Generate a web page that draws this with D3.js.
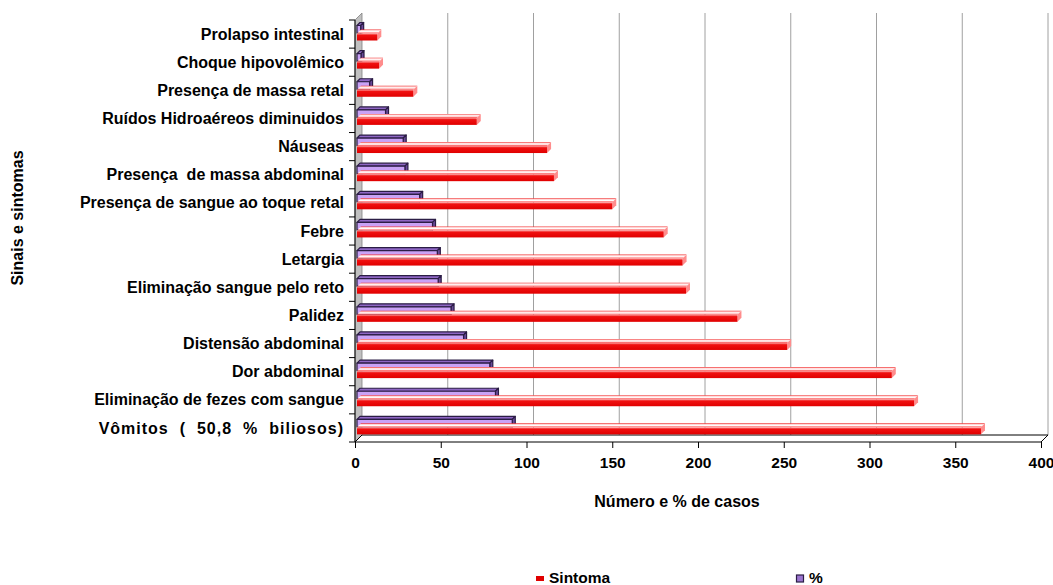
<!DOCTYPE html>
<html>
<head>
<meta charset="utf-8">
<script src="https://cdn.jsdelivr.net/npm/d3@7"></script>
<style>
  html, body { margin: 0; padding: 0; background: #fff; }
  svg { display: block; font-family: "Liberation Sans", Arial, sans-serif; }
  text { white-space: pre; }
</style>
</head>
<body>
<svg id="chart" width="1053" height="585"></svg>
<script>
// Signs and symptoms, listed top to bottom
const categories = [
  "Prolapso intestinal",
  "Choque hipovolêmico",
  "Presença de massa retal",
  "Ruídos Hidroaéreos diminuidos",
  "Náuseas",
  "Presença  de massa abdominal",
  "Presença de sangue ao toque retal",
  "Febre",
  "Letargia",
  "Eliminação sangue pelo reto",
  "Palidez",
  "Distensão abdominal",
  "Dor abdominal",
  "Eliminação de fezes com sangue",
  "Vômitos ( 50,8 % biliosos)"
];
// Number of cases per symptom
const sintoma = [13, 14, 34, 71, 112, 116, 150, 180, 191, 193, 223, 252, 313, 326, 365];
// Percentage of cases per symptom
const percent = [3.3, 3.5, 8.5, 17.8, 28.1, 29.1, 37.7, 45.2, 48.0, 48.5, 56.0, 63.3, 78.6, 81.9, 91.7];
// Value axis ticks
const xTicks = [0, 50, 100, 150, 200, 250, 300, 350, 400];
const seriesNames = ["Sintoma", "%"];

const svg = d3.select("#chart");
const defs = svg.append("defs");
const fontSize = 16;

// Plot geometry (front plane) and depth offset of the back wall
const plotLeft = 355, plotRight = 1041, plotTop = 20, plotBottom = 442;
const depthX = 7, depthY = -7;

const x = d3.scaleLinear().domain([0, 400]).range([plotLeft, plotRight]);
const y = d3.scaleBand().domain(categories).range([plotTop, plotBottom]).paddingInner(0).paddingOuter(0);
const bw = y.bandwidth();

// Gradients for the bar faces
const redFront = defs.append("linearGradient").attr("id", "redFront")
  .attr("x1", 0).attr("y1", 0).attr("x2", 0).attr("y2", 1);
redFront.append("stop").attr("offset", "0%").attr("stop-color", "#ff9a9a");
redFront.append("stop").attr("offset", "25%").attr("stop-color", "#f01010");
redFront.append("stop").attr("offset", "100%").attr("stop-color", "#e00000");

const redTop = defs.append("linearGradient").attr("id", "redTop")
  .attr("x1", 0).attr("y1", 0).attr("x2", 0).attr("y2", 1);
redTop.append("stop").attr("offset", "0%").attr("stop-color", "#f03030");
redTop.append("stop").attr("offset", "25%").attr("stop-color", "#ffd0d0");
redTop.append("stop").attr("offset", "55%").attr("stop-color", "#ffffff");
redTop.append("stop").attr("offset", "80%").attr("stop-color", "#ff9090");
redTop.append("stop").attr("offset", "100%").attr("stop-color", "#f04040");

// Left wall (grey)
svg.append("path")
  .attr("d", `M${plotLeft},${plotTop} L${plotLeft + depthX},${plotTop + depthY} L${plotLeft + depthX},${plotBottom + depthY} L${plotLeft},${plotBottom} Z`)
  .attr("fill", "#c0c0c0").attr("stroke", "#808080").attr("stroke-width", 0.8);

// Back-wall gridlines
svg.append("g").selectAll("line").data(xTicks.filter(d => d > 0)).join("line")
  .attr("x1", d => x(d) + depthX).attr("x2", d => x(d) + depthX)
  .attr("y1", plotTop + depthY).attr("y2", plotBottom + depthY)
  .attr("stroke", "#a0a0a0").attr("stroke-width", 1);

// Floor
svg.append("path")
  .attr("d", `M${plotLeft},${plotBottom} L${plotLeft + depthX},${plotBottom + depthY} L${plotRight + depthX},${plotBottom + depthY} L${plotRight},${plotBottom} Z`)
  .attr("fill", "#ffffff").attr("stroke", "#000").attr("stroke-width", 1);

// Bars
const bars = svg.append("g");
const x0 = x(0) + 2;

categories.forEach((c, i) => {
  const b = y(c);
  // "%" bar: lavender box with top and side faces
  const pv = x(percent[i]);
  const pd = 3;
  const pTop = b + 5.5, pBot = b + 13;
  const g = bars.append("g").attr("stroke", "#2b1d45").attr("stroke-width", 1.2).attr("stroke-linejoin", "round");
  g.append("path")
    .attr("d", `M${x0},${pTop} L${x0 + pd},${pTop - pd} L${pv + pd},${pTop - pd} L${pv},${pTop} Z`)
    .attr("fill", "#8e66c4");
  g.append("path")
    .attr("d", `M${pv},${pTop} L${pv + pd},${pTop - pd} L${pv + pd},${pBot - pd} L${pv},${pBot} Z`)
    .attr("fill", "#6a4a9a");
  g.append("rect")
    .attr("x", x0).attr("y", pTop).attr("width", pv - x0).attr("height", pBot - pTop)
    .attr("fill", "#c9a2f6");

  // "Sintoma" bar: red box with light top face
  const sv = x(sintoma[i]);
  const sd = 4;
  const sTop = b + 13.5, sBot = b + 20.5;
  bars.append("path")
    .attr("d", `M${x0},${sTop} L${x0 + sd},${sTop - sd} L${sv + sd},${sTop - sd} L${sv},${sTop} Z`)
    .attr("fill", "url(#redTop)");
  bars.append("path")
    .attr("d", `M${sv},${sTop} L${sv + sd},${sTop - sd} L${sv + sd},${sBot - sd} L${sv},${sBot} Z`)
    .attr("fill", "#ff8c8c");
  bars.append("rect")
    .attr("x", x0).attr("y", sTop).attr("width", sv - x0).attr("height", sBot - sTop)
    .attr("fill", "url(#redFront)");
});

// Category axis
const yAxis = svg.append("g");
yAxis.append("line").attr("x1", plotLeft).attr("x2", plotLeft).attr("y1", plotTop).attr("y2", plotBottom)
  .attr("stroke", "#000").attr("stroke-width", 1);
yAxis.selectAll("line.tick").data(d3.range(categories.length + 1)).join("line")
  .attr("class", "tick")
  .attr("x1", plotLeft - 6).attr("x2", plotLeft)
  .attr("y1", d => plotTop + d * bw).attr("y2", d => plotTop + d * bw)
  .attr("stroke", "#000");
// The last label is set a little looser than the others
const loose = { "Vômitos ( 50,8 % biliosos)": { letter: "1px", word: "5.5px" } };
yAxis.selectAll("text").data(categories).join("text")
  .attr("x", plotLeft - 11).attr("y", d => y(d) + bw / 2)
  .attr("dy", "0.35em").attr("text-anchor", "end")
  .attr("font-size", fontSize).attr("font-weight", "bold").attr("fill", "#000")
  .style("letter-spacing", d => loose[d] ? loose[d].letter : null)
  .style("word-spacing", d => loose[d] ? loose[d].word : null)
  .text(d => d);

// Value axis
const xAxis = svg.append("g").attr("transform", `translate(0,${plotBottom})`)
  .call(d3.axisBottom(x).tickValues(xTicks).tickSize(6).tickPadding(9).tickFormat(d3.format("d")));
xAxis.select(".domain").remove();
xAxis.selectAll(".tick line").attr("stroke", "#000");
xAxis.selectAll(".tick text")
  .attr("font-size", 15.5).attr("font-weight", "bold").attr("fill", "#000")
  .attr("font-family", "Liberation Sans, Arial, sans-serif");

// Axis titles
svg.append("text").attr("x", 677).attr("y", 507).attr("text-anchor", "middle")
  .attr("font-size", fontSize).attr("font-weight", "bold").text("Número e % de casos");
svg.append("text").attr("transform", "translate(23,218) rotate(-90)").attr("text-anchor", "middle")
  .attr("font-size", fontSize).attr("font-weight", "bold").text("Sinais e sintomas");

// Legend
const legend = svg.append("g");
legend.append("rect").attr("x", 536).attr("y", 576).attr("width", 8).attr("height", 5).attr("fill", "#e00000");
legend.append("text").attr("x", 549).attr("y", 582.5).attr("font-size", 15.5).attr("font-weight", "bold").text(seriesNames[0]);
legend.append("rect").attr("x", 796.5).attr("y", 575).attr("width", 7).attr("height", 7)
  .attr("fill", "#9b75cf").attr("stroke", "#2b1d45").attr("stroke-width", 1.2);
legend.append("text").attr("x", 809).attr("y", 582.5).attr("font-size", 15.5).attr("font-weight", "bold").text(seriesNames[1]);
</script>
</body>
</html>
